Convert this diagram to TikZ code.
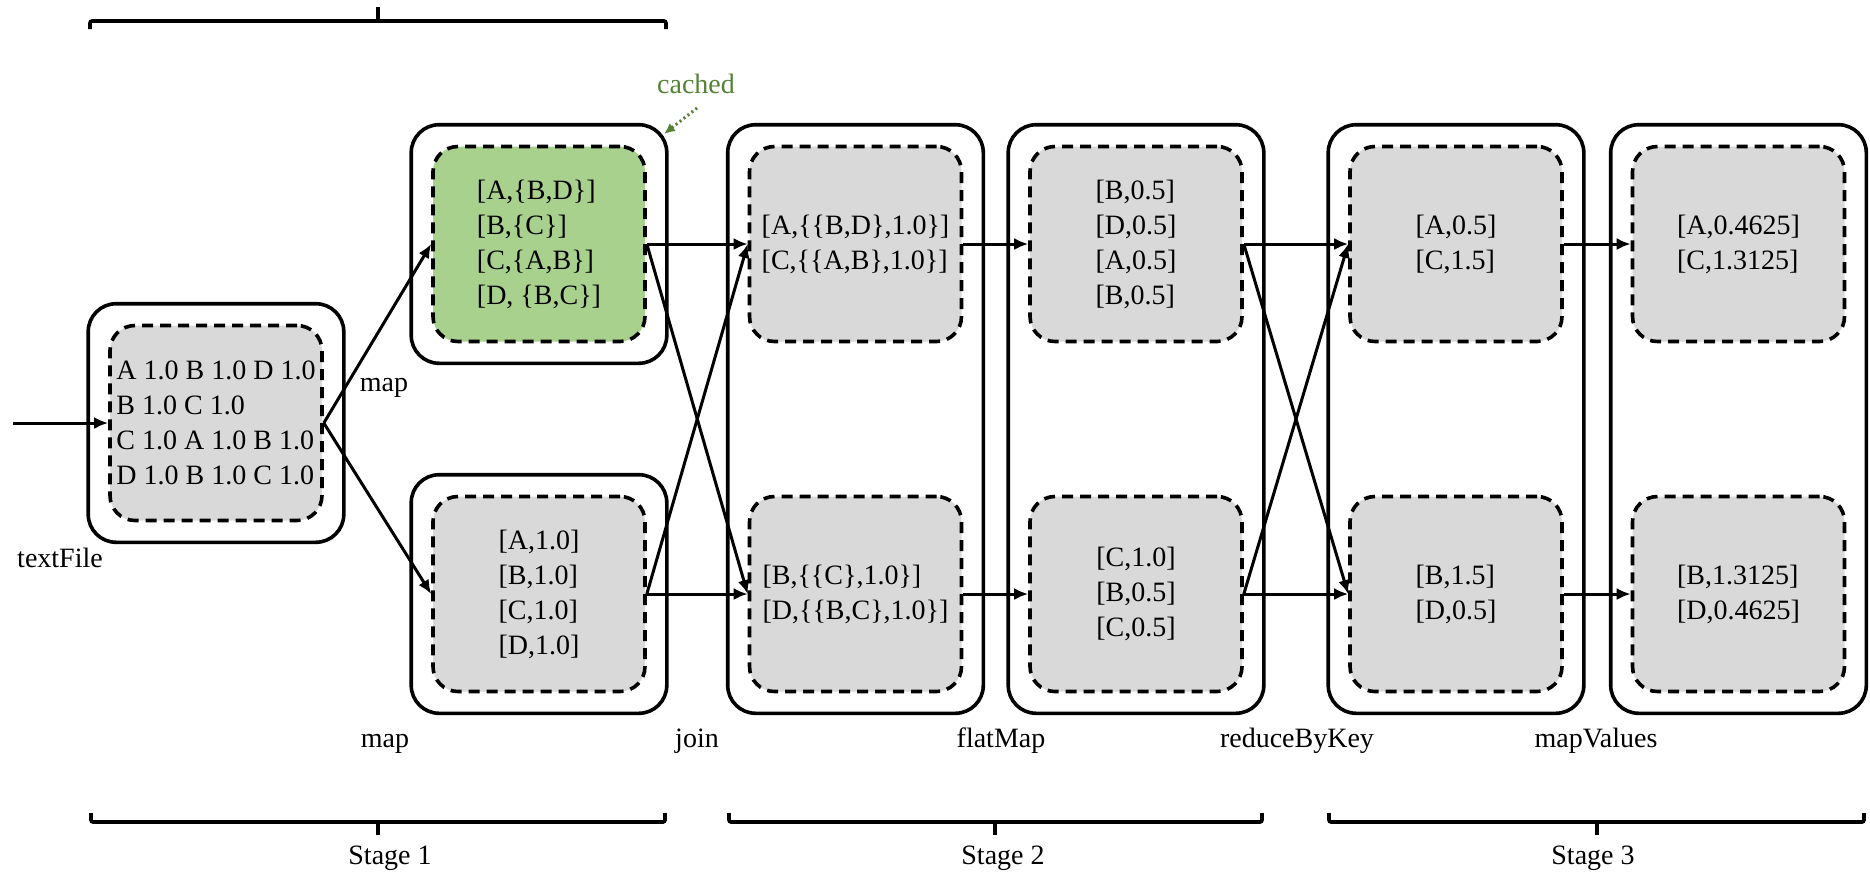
\documentclass[tikz,border=0pt]{standalone}
\usepackage{fontspec}
\setmainfont{Liberation Serif}
\usetikzlibrary{arrows.meta,fit}
\definecolor{cellgray}{HTML}{D9D9D9}
\definecolor{cachegreen}{HTML}{A9D18E}
\definecolor{cachetext}{HTML}{548235}
\begin{document}
\begin{tikzpicture}[x=1pt,y=-1pt,
  part/.style={draw, line width=3.6pt, dash pattern=on 11pt off 7pt, rounded corners=25pt,
    fill=cellgray, minimum width=212pt, minimum height=195pt, align=left, inner sep=0pt,
    font=\fontsize{28}{35}\selectfont},
  rdd/.style={draw, line width=3.6pt, rounded corners=28pt, inner sep=20pt},
  flow/.style={line width=3pt, -{Latex[length=14pt,width=12pt]}},
  lbl/.style={font=\fontsize{28}{35}\selectfont, anchor=base, inner sep=0pt},
  bracket/.style={line width=3.6pt, rounded corners=2pt}
]
\useasboundingbox (0,0) rectangle (1870,884);

% partitions
\node[part] (tf) at (216,423) {A 1.0 B 1.0 D 1.0\\B 1.0 C 1.0\\C 1.0 A 1.0 B 1.0\\D 1.0 B 1.0 C 1.0};
\node[part, fill=cachegreen] (m1) at (539,244) {[A,\{B,D\}]\\{}[B,\{C\}]\\{}[C,\{A,B\}]\\{}[D, \{B,C\}]};
\node[part] (m2) at (539,594) {[A,1.0]\\{}[B,1.0]\\{}[C,1.0]\\{}[D,1.0]};
\node[part] (j1) at (855.5,244) {[A,\{\{B,D\},1.0\}]\\{}[C,\{\{A,B\},1.0\}]};
\node[part] (j2) at (855.5,594) {[B,\{\{C\},1.0\}]\\{}[D,\{\{B,C\},1.0\}]};
\node[part] (f1) at (1136,244) {[B,0.5]\\{}[D,0.5]\\{}[A,0.5]\\{}[B,0.5]};
\node[part] (f2) at (1136,594) {[C,1.0]\\{}[B,0.5]\\{}[C,0.5]};
\node[part] (r1) at (1456,244) {[A,0.5]\\{}[C,1.5]};
\node[part] (r2) at (1456,594) {[B,1.5]\\{}[D,0.5]};
\node[part] (v1) at (1738.5,244) {[A,0.4625]\\{}[C,1.3125]};
\node[part] (v2) at (1738.5,594) {[B,1.3125]\\{}[D,0.4625]};

% RDD boxes
\node[rdd, fit=(tf)] (tfo) {};
\node[rdd, fit=(m1)] (m1o) {};
\node[rdd, fit=(m2)] (m2o) {};
\node[rdd, fit=(j1)(j2)] (jo) {};
\node[rdd, fit=(f1)(f2)] (fo) {};
\node[rdd, fit=(r1)(r2)] (ro) {};
\node[rdd, fit=(v1)(v2)] (vo) {};

% arrows
\coordinate (in) at (13,423);
\draw[flow] (in) -- (tf.west);
\draw[flow] (tf.east) -- (m1.west);
\draw[flow] (tf.east) -- (m2.west);
\draw[flow] (m1.east) -- (j1.west);
\draw[flow] (m1.east) -- (j2.west);
\draw[flow] (m2.east) -- (j1.west);
\draw[flow] (m2.east) -- (j2.west);
\draw[flow] (j1.east) -- (f1.west);
\draw[flow] (j2.east) -- (f2.west);
\draw[flow] (f1.east) -- (r1.west);
\draw[flow] (f1.east) -- (r2.west);
\draw[flow] (f2.east) -- (r1.west);
\draw[flow] (f2.east) -- (r2.west);
\draw[flow] (r1.east) -- (v1.west);
\draw[flow] (r2.east) -- (v2.west);

% cached marker
\node[lbl, text=cachetext] (cached) at (696,93) {cached};
\coordinate (cachestart) at (697,108);
\coordinate (cachetip) at (664,134);
\draw[cachetext, line width=3pt, dash pattern=on 2pt off 3pt, -{Latex[length=11pt,width=10pt]}] (cachestart) -- (cachetip);

% labels
\node[lbl] (lmapa) at (384,391) {map};
\node[lbl] (ltf) at (60,567) {textFile};
\node[lbl] (lmapb) at (385,747) {map};
\node[lbl] (ljoin) at (697,747) {join};
\node[lbl] (lflat) at (1001,747) {flatMap};
\node[lbl] (lred) at (1297,747) {reduceByKey};
\node[lbl] (lmv) at (1596,747) {mapValues};

% brackets
\draw[bracket] (90,29) -- (90,21) -- (666,21) -- (666,29);
\draw[bracket] (378,21) -- (378,7);

\draw[bracket] (91,813) -- (91,822) -- (665,822) -- (665,813);
\draw[bracket] (378,822) -- (378,835);
\draw[bracket] (729,813) -- (729,822) -- (1262,822) -- (1262,813);
\draw[bracket] (995,822) -- (995,835);
\draw[bracket] (1329,813) -- (1329,822) -- (1864,822) -- (1864,813);
\draw[bracket] (1597,822) -- (1597,835);

\node[lbl] (s1) at (390,864) {Stage 1};
\node[lbl] (s2) at (1003,864) {Stage 2};
\node[lbl] (s3) at (1593,864) {Stage 3};
\end{tikzpicture}
\end{document}
